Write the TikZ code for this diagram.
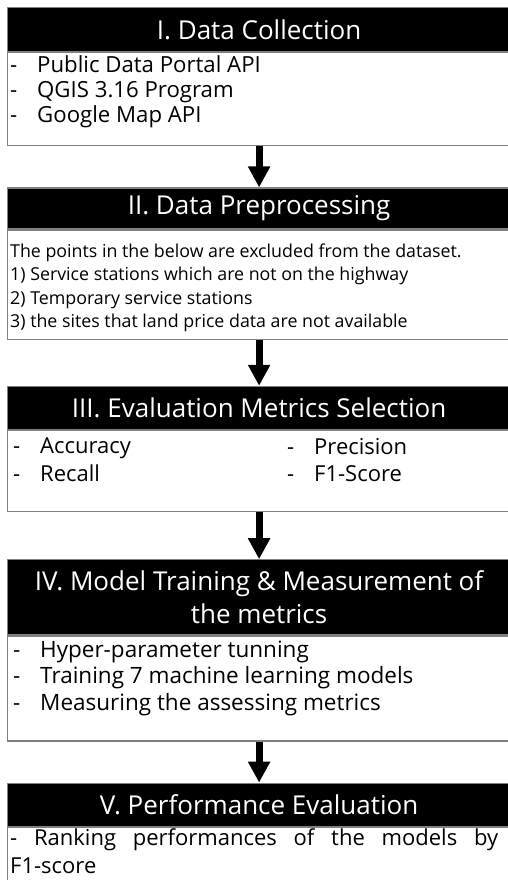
\documentclass[tikz,border=0pt]{standalone}
\usepackage{fontspec}
\setmainfont{Open Sans}
\usetikzlibrary{
arrows.meta,
positioning
}
\newcommand{\itm}{\makebox[27pt][l]{-}}

\begin{document}
\begin{tikzpicture}[
    x=1pt, y=-1pt,
    >={Triangle[width=21pt,length=21pt]},
    head/.style={draw=gray, line width=1.2pt, fill=black, text=white, minimum width=503pt,
      inner sep=0pt, align=center, font=\fontsize{26}{33}\selectfont},
    body/.style={draw=gray, line width=1.2pt, fill=white, minimum width=503pt, inner sep=0pt},
    list/.style={align=left, inner sep=0pt, font=\fontsize{22.2}{25.3}\selectfont},
    flow/.style={->, line width=7pt},
    node distance=41pt
  ]
  \useasboundingbox (0,0) rectangle (507,880);

  % I
  \node[head, minimum height=44pt, anchor=north west] (h1) at (7,7) {I. Data Collection};
  \node[body, minimum height=93pt, below=0pt of h1] (b1) {};
  \node[list, below right=3pt and 3pt of b1.north west] (t1)
    {\itm Public Data Portal API\\\itm QGIS 3.16 Program\\\itm Google Map API};

  % II
  \node[head, minimum height=41pt, below=of b1] (h2) {II. Data Preprocessing};
  \node[body, minimum height=109pt, below=0pt of h2] (b2) {};
  \node[list, font=\fontsize{17.8}{23.5}\selectfont, below right=14pt and 3pt of b2.north west] (t2)
    {The points in the below are excluded from the dataset.\\
     1) Service stations which are not on the highway\\
     2) Temporary service stations\\
     3) the sites that land price data are not available};

  % III
  \node[head, minimum height=43pt, below=46pt of b2] (h3) {III. Evaluation Metrics Selection};
  \node[body, minimum height=81pt, below=0pt of h3] (b3) {};
  \node[list, font=\fontsize{22}{27.5}\selectfont, below right=8pt and 6pt of b3.north west] (t3a)
    {\itm Accuracy\\\itm Recall};
  \node[list, font=\fontsize{22}{27.5}\selectfont, below right=8pt and 280pt of b3.north west] (t3b)
    {\itm Precision\\\itm F1-Score};

  % IV
  \node[head, minimum height=75pt, below=47pt of b3] (h4) {IV. Model Training \& Measurement of\\the metrics};
  \node[body, minimum height=105pt, below=0pt of h4] (b4) {};
  \node[list, font=\fontsize{22.5}{26.7}\selectfont, below right=5pt and 6pt of b4.north west] (t4)
    {\itm Hyper-parameter tunning\\\itm Training 7 machine learning models\\\itm Measuring the assessing metrics};

  % V
  \node[head, minimum height=43pt, below=of b4] (h5) {V. Performance Evaluation};
  \node[body, minimum height=90pt, below=0pt of h5] (b5) {};
  \node[list, font=\fontsize{22}{28}\selectfont, below right=2pt and 3pt of b5.north west] (t5)
    {\makebox[488pt][s]{- Ranking performances of the models by}\\F1-score};

  \draw[flow] (b1) -- (h2);
  \draw[flow] (b2) -- (h3);
  \draw[flow] (b3) -- (h4);
  \draw[flow] (b4) -- (h5);
\end{tikzpicture}
\end{document}
